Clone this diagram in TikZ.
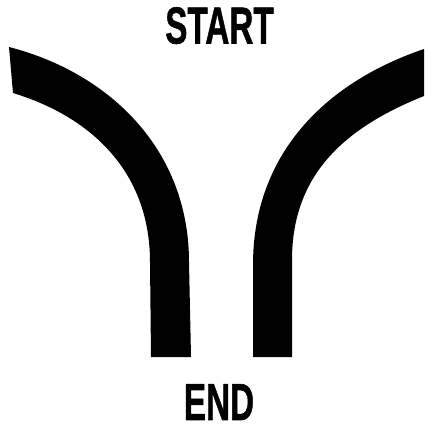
\documentclass[tikz,border=0pt]{standalone}
\usepackage{fontspec}
\setmainfont{Liberation Sans}[BoldFeatures={FakeBold=1.2}]
\begin{document}
\begin{tikzpicture}[x=1pt,y=-1pt,
  lbl/.style={inner sep=0pt, anchor=north, font=\fontsize{52}{52}\selectfont\bfseries},
  branch/.style={fill=black}]
\useasboundingbox (0,0) rectangle (424,426);
% left branch
\fill[branch] (9,47) .. controls (110,73) and (189,150) .. (189,262)
  -- (191,357) -- (151,357) -- (150,262)
  .. controls (150,175) and (95,118) .. (13,93) -- cycle;
% right branch
\fill[branch] (253,357) -- (253,265) .. controls (253,155) and (324,83) .. (424,49)
  -- (424,96) .. controls (344,128) and (292,175) .. (292,260)
  -- (292,357) -- cycle;
\node[lbl] (start) at (219.5,7) {\scalebox{0.64}[1]{START}};
\node[lbl] (end) at (219,384) {\scalebox{0.64}[1]{END}};
\end{tikzpicture}
\end{document}
